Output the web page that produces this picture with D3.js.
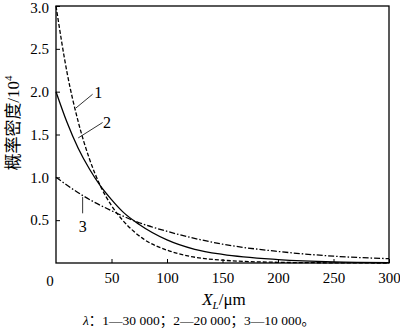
<!DOCTYPE html>
<html>
<head>
<meta charset="utf-8">
<script src="https://cdn.jsdelivr.net/npm/d3@7"></script>
<style>
  body { margin: 0; background: #fff; }
  text { font-family: "Liberation Serif", "Times New Roman", serif; }
</style>
</head>
<body>
<div id="chart"></div>
<script>
// values (density in 10^4, x in um)
var xTicks = [0, 50, 100, 150, 200, 250, 300]
var yTicks = [0.5, 1.0, 1.5, 2.0, 2.5, 3.0]

var xs1 = [0, 10, 20, 30, 40, 50, 60, 70, 80, 100, 120, 150, 200, 250, 300]
var ys1 = [3.0, 2.22, 1.65, 1.22, 0.9, 0.67, 0.5, 0.37, 0.27, 0.15, 0.08, 0.033, 0.008, 0.002, 0.0]

var xs2 = [0, 10, 20, 30, 40, 50, 60, 75, 100, 125, 150, 200, 250, 300]
var ys2 = [2.0, 1.64, 1.34, 1.1, 0.9, 0.74, 0.6, 0.45, 0.27, 0.16, 0.1, 0.04, 0.013, 0.005]

var xs3 = [0, 25, 50, 75, 100, 150, 200, 250, 300]
var ys3 = [1.0, 0.78, 0.61, 0.47, 0.37, 0.22, 0.135, 0.08, 0.05]

var seriesNames = ["1", "2", "3"]

var width = 400
    height = 331
    margin = {left: 56, right: 11, top: 6, bottom: 68}

var svg = d3.select("#chart")
  .append("svg")
    .attr("width", width)
    .attr("height", height)

var x = d3.scaleLinear().domain([0, 300]).range([margin.left, width - margin.right])
var y = d3.scaleLinear().domain([0, 3.0]).range([height - margin.bottom, margin.top])

// frame
svg.append("rect")
  .attr("x", x(0)).attr("y", y(3.0))
  .attr("width", x(300) - x(0)).attr("height", y(0) - y(3.0))
  .attr("fill", "none").attr("stroke", "#000").attr("stroke-width", 1.3)

// x axis, ticks pointing inside
var xAxis = svg.append("g")
  .attr("transform", "translate(0," + y(0) + ")")
  .call(d3.axisBottom(x).tickValues(xTicks.slice(1)).tickSizeInner(-4).tickSizeOuter(0).tickPadding(9)
    .tickFormat(d3.format("d")))
xAxis.select(".domain").remove()
xAxis.selectAll("text").style("font-size", "15px")

var yAxis = svg.append("g")
  .attr("transform", "translate(" + x(0) + ",0)")
  .call(d3.axisLeft(y).tickValues(yTicks).tickSizeInner(-4).tickSizeOuter(0).tickPadding(7)
    .tickFormat(d3.format(".1f")))
yAxis.select(".domain").remove()
yAxis.selectAll("text").style("font-size", "15px")
// keep the top label inside the page
yAxis.selectAll(".tick").filter(function(d) { return d === 3.0 })
  .select("text").attr("dy", "0.45em")

svg.append("text")
  .attr("x", x(0) - 6).attr("y", y(0) + 23)
  .attr("text-anchor", "middle")
  .style("font-size", "15px")
  .text("0")

// curves
var series = [
  {xs: xs1, ys: ys1, dash: "4,2"},
  {xs: xs2, ys: ys2, dash: null},
  {xs: xs3, ys: ys3, dash: "6,2,1.5,2"}
]

var line = d3.line()
  .x(function(d) { return x(d[0]) })
  .y(function(d) { return y(d[1]) })
  .curve(d3.curveMonotoneX)

series.forEach(function(s) {
  svg.append("path")
    .datum(d3.zip(s.xs, s.ys))
    .attr("d", line)
    .attr("fill", "none")
    .attr("stroke", "#000")
    .attr("stroke-width", 1.3)
    .attr("stroke-dasharray", s.dash)
})

// curve labels with leader lines
var labels = [
  {name: seriesNames[0], from: [18, 1.81], to: [33, 1.97], tx: 38, ty: 1.93},
  {name: seriesNames[1], from: [20, 1.46], to: [42, 1.64], tx: 46, ty: 1.58},
  {name: seriesNames[2], from: [24, 0.77], to: [24, 0.58], tx: 24, ty: 0.36}
]

labels.forEach(function(l) {
  svg.append("line")
    .attr("x1", x(l.from[0])).attr("y1", y(l.from[1]))
    .attr("x2", x(l.to[0])).attr("y2", y(l.to[1]))
    .attr("stroke", "#000").attr("stroke-width", 0.8)
  svg.append("text")
    .attr("x", x(l.tx)).attr("y", y(l.ty))
    .attr("text-anchor", "middle")
    .style("font-size", "16px")
    .text(l.name)
})

// axis titles
var xt = svg.append("text")
  .attr("x", 224).attr("y", 305)
  .attr("text-anchor", "middle")
  .style("font-size", "17px")
xt.append("tspan").style("font-style", "italic").text("X")
xt.append("tspan").style("font-style", "italic").style("font-size", "11px").attr("dy", 4).text("L")
xt.append("tspan").attr("dy", -4).text("/μm")

var yt = svg.append("text")
  .attr("transform", "translate(19,123) rotate(-90)")
  .attr("text-anchor", "middle")
  .style("font-size", "17px")
yt.append("tspan").style("font-family", "'Noto Sans CJK SC'").text("概率密度")
yt.append("tspan").text("/10")
yt.append("tspan").style("font-size", "11px").attr("dy", -7).text("4")

svg.append("text")
  .attr("x", 199).attr("y", 325)
  .attr("text-anchor", "middle")
  .style("font-size", "13.5px")
  .html("<tspan font-style='italic'>λ</tspan><tspan style=\"font-family:'Noto Sans CJK SC'\">：</tspan>1—30 000<tspan style=\"font-family:'Noto Sans CJK SC'\">；</tspan>2—20 000<tspan style=\"font-family:'Noto Sans CJK SC'\">；</tspan>3—10 000<tspan style=\"font-family:'Noto Sans CJK SC'\">。</tspan>")
</script>
</body>
</html>
